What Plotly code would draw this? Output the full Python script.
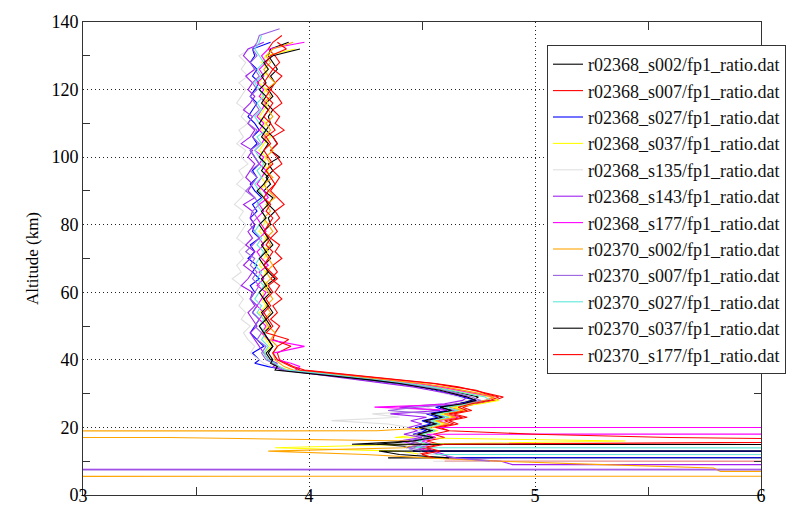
import plotly.graph_objects as go

# Altitude grid (km), shared by all profiles
ALT = [138, 136, 134, 132, 130, 128, 126, 124, 122, 120,
       118, 116, 114, 112, 110, 108, 106, 104, 102, 100,
       98, 96, 94, 92, 90, 88, 86, 84, 82, 80,
       78, 76, 74, 72, 70, 68, 66, 64, 62, 60,
       58, 56, 54, 52, 50, 48, 46, 44, 42,
       40, 39, 38, 37, 36, 35, 34, 33, 32, 31,
       30, 29, 28, 27, 26, 25, 24, 23, 22, 21,
       20, 19, 18, 17, 16, 15, 14, 13, 12, 11,
       10, 9, 8, 7, 6, 5]

NAMES = ["r02368_s002/fp1_ratio.dat", "r02368_s007/fp1_ratio.dat",
         "r02368_s027/fp1_ratio.dat", "r02368_s037/fp1_ratio.dat",
         "r02368_s135/fp1_ratio.dat", "r02368_s143/fp1_ratio.dat",
         "r02368_s177/fp1_ratio.dat", "r02370_s002/fp1_ratio.dat",
         "r02370_s007/fp1_ratio.dat", "r02370_s027/fp1_ratio.dat",
         "r02370_s037/fp1_ratio.dat", "r02370_s177/fp1_ratio.dat"]

COLORS = ["#000000", "#ff0000", "#0000ff", "#ffff00", "#e0e0e0", "#a020f0",
          "#ff00ff", "#ffa500", "#9a62e0", "#5ee8d8", "#000000", "#ff0000"]

S1 = [None, None, 3.91, 3.83, 3.82, 3.84, 3.86, 3.83, 3.85, 3.82,
      3.84, 3.81, 3.84, 3.82, 3.83, 3.81, 3.84, 3.86, 3.83, 3.87,
      3.82, 3.84, 3.81, 3.83, 3.80, 3.84, 3.82, 3.85, 3.82, 3.83,
      3.80, 3.82, 3.84, 3.81, 3.83, 3.80, 3.82, 3.85, 3.81, 3.83,
      3.80, 3.82, 3.84, 3.81, 3.83, 3.80, 3.82, 3.84, 3.81,
      3.83, 3.85, 3.86, 3.88, 4.04, 4.16, 4.30, 4.44, 4.55, 4.62,
      4.68, 4.75, 4.72, 4.66, 4.58, 4.64, 4.55, 4.60, 4.52, 4.57,
      4.50, 4.55, 4.49, 4.56, 4.47, 4.30, 4.52, 4.46, 40.0, 4.35,
      None, None, None, None, None, None]

S2 = [None, 3.88, 3.84, 3.82, 3.85, 3.87, 3.84, 3.88, 3.85, 3.83,
      3.86, 3.88, 3.84, 3.87, 3.85, 3.89, 3.84, 3.86, 3.83, 3.86,
      3.88, 3.84, 3.87, 3.85, 3.83, 3.86, 3.89, 3.85, 3.87, 3.84,
      3.86, 3.83, 3.87, 3.85, 3.88, 3.84, 3.86, 3.83, 3.87, 3.85,
      3.88, 3.84, 3.86, 3.83, 3.87, 3.85, 3.84, 3.92, 3.86,
      3.87, 3.90, 3.93, 3.98, 4.12, 4.28, 4.42, 4.56, 4.66, 4.73,
      4.80, 4.86, 4.82, 4.74, 4.68, 4.72, 4.64, 4.70, 4.62, 4.66,
      4.58, 4.62, 4.55, 4.60, 4.52, 4.58, 4.50, 4.55, 4.48, 50.0,
      4.60, None, None, None, None, None]

S3 = [None, None, 3.83, 3.75, 3.76, 3.74, 3.77, 3.75, 3.78, 3.76,
      3.74, 3.77, 3.75, 3.73, 3.76, 3.78, 3.75, 3.77, 3.74, 3.76,
      3.78, 3.75, 3.77, 3.74, 3.76, 3.79, 3.75, 3.77, 3.74, 3.76,
      3.75, 3.78, 3.74, 3.76, 3.73, 3.77, 3.75, 3.78, 3.74, 3.76,
      3.74, 3.77, 3.75, 3.78, 3.76, 3.74, 3.77, 3.80, 3.75,
      3.78, 3.76, 3.82, 3.90, 4.02, 4.14, 4.26, 4.38, 4.48, 4.56,
      4.62, 4.68, 4.74, 4.66, 4.56, 4.61, 4.52, 4.57, 4.50, 4.54,
      4.47, 4.52, 4.46, 4.53, 4.44, 4.50, 4.43, 4.48, 60.0, 4.60,
      None, None, None, None, None, None]

S4 = [None, None, None, 3.94, 3.81, 3.79, 3.82, 3.80, 3.78, 3.81,
      3.79, 3.82, 3.80, 3.78, 3.81, 3.79, 3.83, 3.80, 3.78, 3.81,
      3.80, 3.82, 3.79, 3.81, 3.78, 3.80, 3.82, 3.79, 3.81, 3.80,
      3.78, 3.81, 3.79, 3.82, 3.80, 3.78, 3.81, 3.79, 3.82, 3.80,
      3.79, 3.81, 3.78, 3.80, 3.82, 3.79, 3.81, 3.83, 3.80,
      3.82, 3.84, 3.86, 3.91, 4.06, 4.20, 4.33, 4.46, 4.56, 4.64,
      4.72, 4.80, 4.84, 4.76, 4.64, 4.70, 4.58, 4.64, 4.55, 4.60,
      4.52, 4.57, 4.50, 4.38, 5.40, 4.45, 3.85, 4.40, 4.50, 4.55,
      None, None, None, None, None, None]

S5 = [None, None, None, 3.74, 3.69, 3.72, 3.70, 3.73, 3.69, 3.72,
      3.70, 3.68, 3.72, 3.70, 3.73, 3.69, 3.71, 3.68, 3.72, 3.70,
      3.73, 3.69, 3.71, 3.68, 3.72, 3.70, 3.67, 3.71, 3.69, 3.72,
      3.70, 3.68, 3.72, 3.69, 3.71, 3.68, 3.70, 3.66, 3.70, 3.68,
      3.71, 3.69, 3.72, 3.70, 3.74, 3.71, 3.73, 3.76, 3.74,
      3.78, 3.80, 3.84, 3.90, 4.00, 4.12, 4.24, 4.36, 4.46, 4.54,
      4.60, 4.66, 4.70, 4.62, 4.52, 4.56, 4.28, 4.40, 4.10, 4.35,
      4.45, 4.50, 4.42, 4.48, 4.40, 4.46, 4.42, 4.50, 4.48, 40.0,
      4.55, None, None, None, None, None]

S6 = [None, None, 3.80, 3.73, 3.71, 3.74, 3.76, 3.72, 3.75, 3.73,
      3.76, 3.74, 3.71, 3.75, 3.73, 3.76, 3.74, 3.70, 3.75, 3.73,
      3.76, 3.74, 3.72, 3.75, 3.73, 3.76, 3.71, 3.75, 3.74, 3.76,
      3.73, 3.75, 3.72, 3.76, 3.74, 3.71, 3.75, 3.73, 3.70, 3.75,
      3.74, 3.76, 3.73, 3.75, 3.77, 3.74, 3.76, 3.78, 3.80,
      3.82, 3.86, 3.84, 3.88, 4.00, 4.12, 4.24, 4.36, 4.46, 4.54,
      4.62, 4.70, 4.68, 4.60, 4.40, 4.58, 4.36, 4.52, 4.45, 4.50,
      4.44, 4.48, 4.42, 4.50, 4.40, 4.47, 4.52, 4.55, 4.60, 4.62,
      4.85, 4.90, 60.0, -80.0, None, None]

S7 = [None, None, 3.98, 3.82, 3.79, 3.81, 3.78, 3.80, 3.77, 3.80,
      3.78, 3.81, 3.79, 3.77, 3.80, 3.78, 3.81, 3.79, 3.76, 3.80,
      3.78, 3.81, 3.79, 3.77, 3.80, 3.82, 3.78, 3.80, 3.77, 3.79,
      3.81, 3.78, 3.80, 3.77, 3.79, 3.82, 3.78, 3.80, 3.77, 3.81,
      3.79, 3.77, 3.80, 3.78, 3.81, 3.79, 3.82, 3.98, 3.84,
      3.86, 3.92, 3.96, 3.94, 4.08, 4.22, 4.34, 4.48, 4.58, 4.66,
      4.74, 4.82, 4.78, 4.70, 4.29, 4.66, 4.60, 4.66, 4.57, 4.62,
      4.55, 50.0, 4.52, 4.56, 4.50, 4.54, 4.48, 4.53, None, None,
      None, None, None, None, None, None]

S8 = [None, None, 3.93, 3.84, 3.81, 3.83, 3.80, 3.82, 3.85, 3.81,
      3.83, 3.80, 3.82, 3.84, 3.81, 3.83, 3.80, 3.82, 3.84, 3.81,
      3.83, 3.81, 3.84, 3.80, 3.82, 3.85, 3.81, 3.83, 3.80, 3.82,
      3.84, 3.81, 3.83, 3.80, 3.82, 3.84, 3.81, 3.83, 3.80, 3.82,
      3.84, 3.81, 3.83, 3.80, 3.82, 3.85, 3.83, 3.86, 3.84,
      3.85, 3.87, 3.89, 3.93, 4.08, 4.22, 4.36, 4.50, 4.60, 4.68,
      4.76, 4.82, 4.78, 4.70, 4.62, 4.68, 4.60, 4.65, 4.56, 4.62,
      4.55, 4.30, -60.0, 3.38, 4.45, 4.50, 4.42, 3.82, 4.25, 4.52,
      4.85, 5.30, 5.79, 5.82, 60.0, -60.0]

S9 = [3.87, 3.78, 3.77, 3.75, 3.77, 3.74, 3.76, 3.78, 3.75, 3.77,
      3.74, 3.76, 3.78, 3.75, 3.73, 3.77, 3.75, 3.78, 3.74, 3.76,
      3.78, 3.74, 3.77, 3.75, 3.72, 3.76, 3.78, 3.75, 3.77, 3.74,
      3.76, 3.78, 3.75, 3.72, 3.76, 3.74, 3.77, 3.75, 3.78, 3.76,
      3.74, 3.77, 3.75, 3.78, 3.76, 3.79, 3.77, 3.81, 3.79,
      3.81, 3.84, 3.86, 3.89, 4.03, 4.16, 4.30, 4.42, 4.52, 4.60,
      4.66, 4.72, 4.76, 4.68, 4.48, 4.35, 4.55, 4.60, 4.52, 4.56,
      4.50, 4.54, 4.47, 4.52, 4.45, 4.50, 4.44, 4.52, 4.58, 4.65,
      4.80, None, -70.0, 60.0, None, None]

S10 = [None, 3.79, 3.78, 3.76, 3.78, 3.80, 3.77, 3.79, 3.76, 3.78,
       3.80, 3.77, 3.79, 3.76, 3.78, 3.81, 3.77, 3.79, 3.76, 3.78,
       3.80, 3.77, 3.79, 3.76, 3.78, 3.80, 3.77, 3.79, 3.81, 3.78,
       3.76, 3.79, 3.77, 3.80, 3.78, 3.76, 3.79, 3.77, 3.80, 3.78,
       3.76, 3.79, 3.77, 3.80, 3.78, 3.81, 3.79, 3.82, 3.80,
       3.82, 3.85, 3.87, 3.90, 4.05, 4.18, 4.31, 4.44, 4.54, 4.62,
       4.70, 4.78, 4.80, 4.72, 4.60, 4.66, 4.56, 4.62, 4.54, 4.58,
       4.52, 4.56, 4.50, 4.55, 4.48, 4.53, 4.47, 40.0, 4.56, None,
       None, None, None, None, None, None]

S11 = [None, None, None, 3.96, 3.84, 3.80, 3.82, 3.79, 3.81, 3.78,
       3.81, 3.79, 3.82, 3.80, 3.78, 3.81, 3.79, 3.82, 3.80, 3.78,
       3.81, 3.79, 3.82, 3.80, 3.77, 3.80, 3.82, 3.79, 3.81, 3.78,
       3.80, 3.82, 3.79, 3.81, 3.78, 3.80, 3.82, 3.79, 3.81, 3.78,
       3.80, 3.82, 3.79, 3.81, 3.78, 3.80, 3.82, 3.84, 3.82,
       3.84, 3.83, 3.86, 3.85, 4.00, 4.14, 4.28, 4.40, 4.50, 4.58,
       4.64, 4.70, 4.74, 4.68, 4.58, 4.63, 4.54, 4.59, 4.51, 4.56,
       4.49, 4.54, 4.48, 4.55, 4.46, 4.19, 50.0, 4.31, 4.40, 4.62,
       None, None, None, None, None, None]

S12 = [None, None, 3.86, 3.90, 3.83, 3.81, 3.84, 3.82, 3.80, 3.83,
       3.81, 3.84, 3.82, 3.80, 3.83, 3.85, 3.81, 3.83, 3.80, 3.82,
       3.84, 3.81, 3.83, 3.85, 3.82, 3.80, 3.83, 3.81, 3.84, 3.82,
       3.80, 3.83, 3.81, 3.84, 3.82, 3.80, 3.83, 3.86, 3.82, 3.84,
       3.81, 3.83, 3.80, 3.82, 3.84, 3.81, 3.91, 3.86, 3.84,
       3.86, 3.89, 3.92, 3.96, 4.10, 4.25, 4.40, 4.55, 4.64, 4.74,
       4.78, 4.84, 4.80, 4.72, 4.66, 4.70, 4.62, 4.68, 4.60, 4.64,
       4.56, 4.62, 5.00, 5.60, 7.00, 4.60, 4.52, 4.58, 4.50, 4.55,
       None, None, None, None, None, None]

SERIES = [S1, S2, S3, S4, S5, S6, S7, S8, S9, S10, S11, S12]

X_TICKS = [3, 4, 5, 6]
X_MINOR = [3.5, 4.5, 5.5]
Y_TICKS = [0, 20, 40, 60, 80, 100, 120, 140]
Y_MINOR = [10, 30, 50, 70, 90, 110, 130]

SERIF = "Liberation Serif, Times New Roman, serif"

fig = go.Figure()
for name, color, xs in zip(NAMES, COLORS, SERIES):
    assert len(xs) == len(ALT), (name, len(xs), len(ALT))
    fig.add_trace(go.Scatter(x=xs, y=ALT, mode="lines", name=name,
                             line=dict(color=color, width=1.1),
                             connectgaps=False, hoverinfo="skip"))

axis_common = dict(showline=True, linecolor="#333", linewidth=1, mirror="ticks",
                   ticks="", zeroline=False, showgrid=True, gridcolor="#222",
                   gridwidth=1, griddash="1px,3px",
                   tickfont=dict(family=SERIF, size=18, color="black"))

fig.update_layout(
    width=797, height=510,
    margin=dict(l=75, r=44, t=14, b=23, autoexpand=False),
    paper_bgcolor="white", plot_bgcolor="white",
    font=dict(family=SERIF, size=18, color="black"),
    showlegend=True,
    legend=dict(x=(539 - 75) / 678, y=(487 - 37) / 473, xanchor="left", yanchor="top",
                bgcolor="white", bordercolor="#333", borderwidth=1,
                font=dict(family=SERIF, size=18, color="#111"), tracegroupgap=0),
    xaxis=dict(range=[3, 6], tickmode="array", tickvals=X_TICKS,
               ticklabelstandoff=-16,
               minor=dict(tickmode="array", tickvals=X_MINOR, ticks="inside",
                          ticklen=8, tickcolor="#333", showgrid=False),
               **axis_common),
    yaxis=dict(range=[0, 140], tickmode="array", tickvals=Y_TICKS,
               minor=dict(tickmode="array", tickvals=Y_MINOR, ticks="inside",
                          ticklen=7, tickcolor="#333", showgrid=False),
               title=dict(text="Altitude (km)", font=dict(family=SERIF, size=17),
                          standoff=8),
               **axis_common),
)

fig.write_html("out.html")
